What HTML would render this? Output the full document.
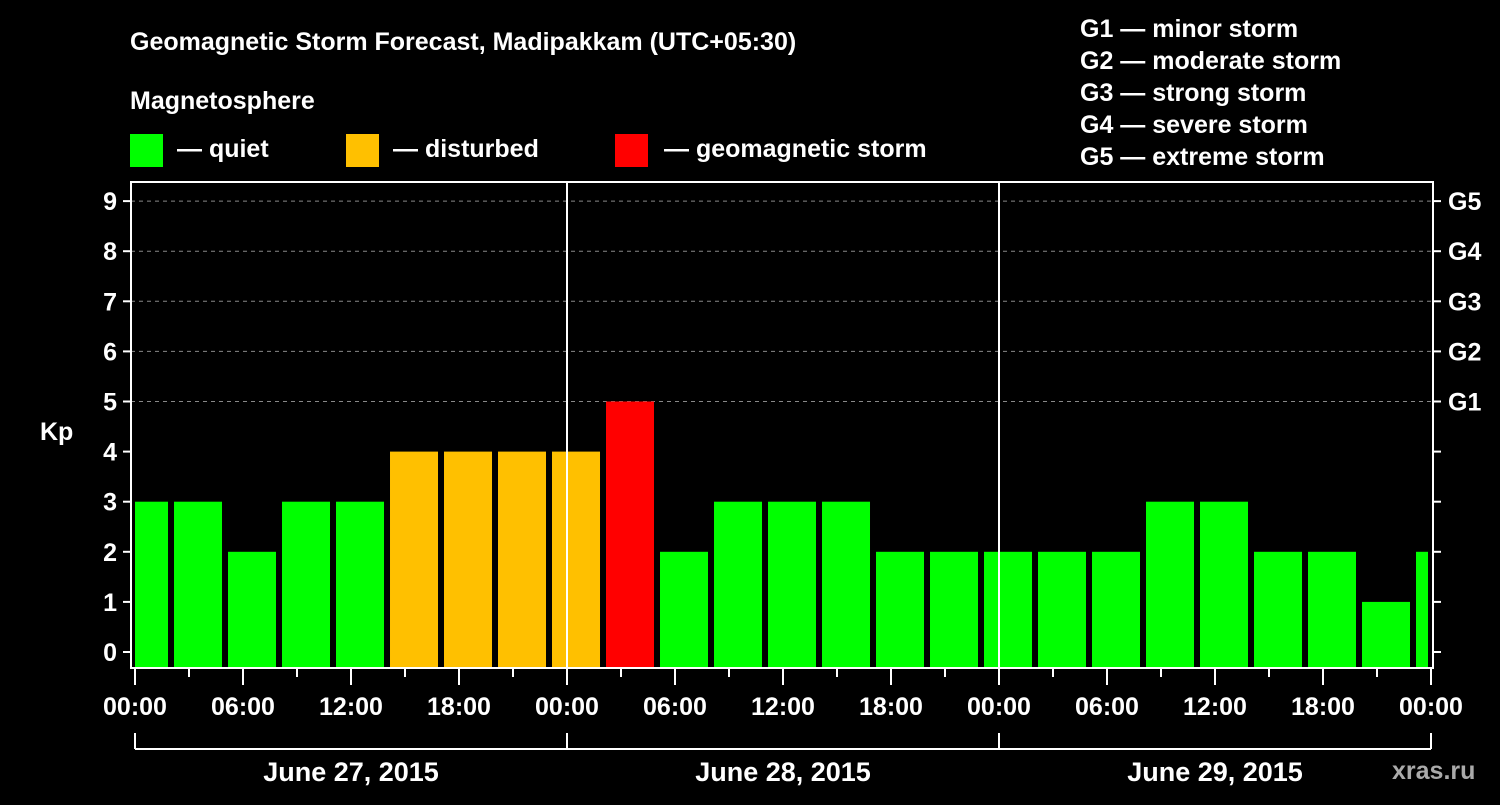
<!DOCTYPE html>
<html><head><meta charset="utf-8"><style>
body{margin:0;background:#000;width:1500px;height:800px;overflow:hidden}
svg text{font-family:"Liberation Sans",Arial,sans-serif;font-weight:bold;fill:#fff}
</style></head><body>
<svg id="chart" width="1500" height="800">
<text x="130" y="50" font-size="25">Geomagnetic Storm Forecast, Madipakkam (UTC+05:30)</text>
<text x="130" y="109" font-size="25">Magnetosphere</text>
<rect x="130" y="134" width="33" height="33" fill="#00ff00"/>
<text x="177" y="157" font-size="25">— quiet</text>
<rect x="346" y="134" width="33" height="33" fill="#ffc000"/>
<text x="393" y="157" font-size="25">— disturbed</text>
<rect x="615" y="134" width="33" height="33" fill="#ff0000"/>
<text x="664" y="157" font-size="25">— geomagnetic storm</text>
<g font-size="25">
<text x="1080" y="37">G1 — minor storm</text>
<text x="1080" y="69">G2 — moderate storm</text>
<text x="1080" y="101">G3 — strong storm</text>
<text x="1080" y="133">G4 — severe storm</text>
<text x="1080" y="165">G5 — extreme storm</text>
</g>
<text x="40" y="440" font-size="25">Kp</text>
<text x="1392" y="779" font-size="25" fill="#aaa" style="fill:#aaa">xras.ru</text>
<g id="grid"></g><g id="bars"></g><g id="axes"></g>
</svg>
<script>
const kpValues=[3,3,2,3,3,4,4,4,4,5,2,3,3,3,2,2,2,2,2,3,3,2,2,1,2];
const yTicks=[0,1,2,3,4,5,6,7,8,9];
const gLabels=["G1","G2","G3","G4","G5"];
const xTickLabels=["00:00","06:00","12:00","18:00","00:00","06:00","12:00","18:00","00:00","06:00","12:00","18:00","00:00"];
const dateLabels=["June 27, 2015","June 28, 2015","June 29, 2015"];
const NS="http://www.w3.org/2000/svg";
const L=131,R=1433,T=182,B=668,X0=135,HOUR=18;
const y=v=>652-v*50.1;
const x=h=>X0+h*HOUR;
function mk(tag,attrs,parent,txt){const e=document.createElementNS(NS,tag);for(const k in attrs)e.setAttribute(k,attrs[k]);if(txt!==undefined)e.textContent=txt;document.getElementById(parent).appendChild(e);return e;}
// grid
for(let i=0;i<gLabels.length;i++){const v=5+i;
 const g=mk('line',{x1:L,x2:R,y1:y(v),y2:y(v),stroke:'#888','stroke-dasharray':'4,4','stroke-width':1},'grid');
 
 
 const t=mk('text',{x:1448,y:y(v)+9,'font-size':25},'axes',gLabels[i]);
 
 
}
// bars
kpValues.forEach((v,i)=>{
 let l=x(-0.833+3*i), r=l+48;
 l=Math.max(l,L+4); r=Math.min(r,R-5);
 const c=v>=5?'#ff0000':(v>=4?'#ffc000':'#00ff00');
 const b=mk('rect',{x:l,y:y(v),width:r-l,height:B-y(v),fill:c},'bars');
 
 
});
// day separators
for(let d=1;d<3;d++){const s=mk('line',{x1:x(24*d),x2:x(24*d),y1:T,y2:B,stroke:'#fff','stroke-width':2},'axes');
 
 }
const f=mk('rect',{x:L,y:T,width:R-L,height:B-T,fill:'none',stroke:'#fff','stroke-width':2},'axes');


yTicks.forEach(v=>{
 const t=mk('text',{x:117,y:y(v)+9,'font-size':25,'text-anchor':'end'},'axes',String(v));
 
 
 mk('line',{x1:123,x2:L,y1:y(v),y2:y(v),stroke:'#fff','stroke-width':2},'axes');
 mk('line',{x1:R,x2:R+8,y1:y(v),y2:y(v),stroke:'#fff','stroke-width':2},'axes');
});
for(let h=0;h<=72;h+=3){const major=h%6===0;
 mk('line',{x1:x(h),x2:x(h),y1:B,y2:B+(major?17:9),stroke:'#fff','stroke-width':2},'axes');}
xTickLabels.forEach((s,i)=>{const t=mk('text',{x:x(6*i),y:715,'font-size':25,'text-anchor':'middle'},'axes',s);
 
 });
mk('line',{x1:x(0),x2:x(72),y1:749,y2:749,stroke:'#fff','stroke-width':2},'axes');
for(let d=0;d<=3;d++)mk('line',{x1:x(24*d),x2:x(24*d),y1:733,y2:749,stroke:'#fff','stroke-width':2},'axes');
dateLabels.forEach((s,i)=>{const t=mk('text',{x:x(24*i+12),y:781,'font-size':27,'text-anchor':'middle'},'axes',s);
 
 });
</script>
</body></html>
